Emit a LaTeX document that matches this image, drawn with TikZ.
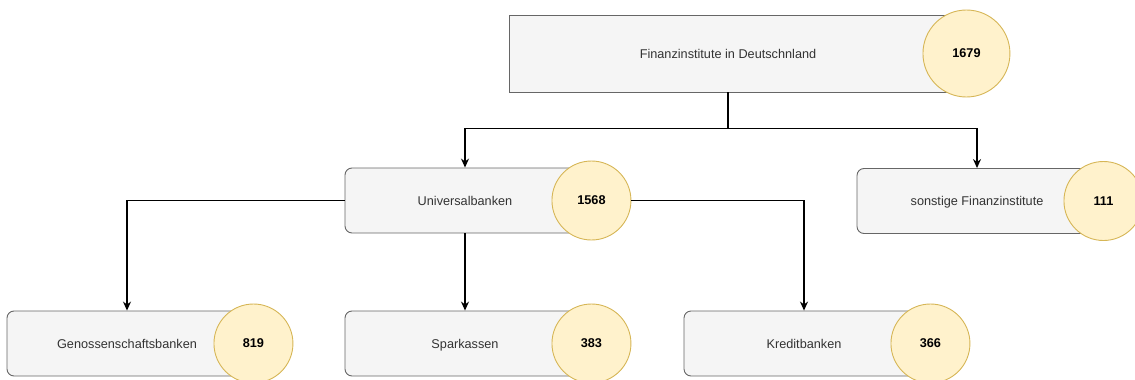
\documentclass[tikz,border=0pt]{standalone}
\usepackage{fontspec}
\setmainfont{Liberation Sans}
\usepackage{tikz}
\usetikzlibrary{arrows.meta}
\usetikzlibrary{calc,positioning}

\definecolor{boxfill}{HTML}{F5F5F5}
\definecolor{boxline}{HTML}{666666}
\definecolor{boxtext}{HTML}{333333}
\definecolor{countfill}{HTML}{FFF2CC}
\definecolor{countline}{HTML}{D6B656}

\tikzset{
    bank/.style={draw=boxline, fill=boxfill, text=boxtext, line width=0.9pt,
        rounded corners=7pt, minimum width=240pt, minimum height=65pt,
        inner sep=0pt, text height=9pt, text depth=0pt,
        font=\fontsize{12.7}{15}\selectfont},
    count/.style={circle, draw=countline, fill=countfill, line width=0.9pt,
        minimum size=79pt, inner sep=0pt, font=\fontsize{12.7}{15}\selectfont\bfseries},
    link/.style={line width=1.2pt, -{Stealth[length=9pt,width=8pt]}},
}

\begin{document}
\begin{tikzpicture}[x=1pt, y=-1pt]
    \useasboundingbox (0,0) rectangle (1135,380);

    % Wurzel
    \node[bank, rounded corners=0pt, minimum width=438pt, minimum height=77pt] (root) at (728,53.5) {Finanzinstitute in Deutschnland};
    \node[count, minimum size=87pt, xshift=19pt] (nroot) at (root.east) {1679};

    % zweite Ebene
    \node[bank] (uni) at (465,200.5) {Universalbanken};
    \node[count, xshift=6pt] (nuni) at (uni.east) {1568};

    \node[bank] (other) at (977,201) {sonstige Finanzinstitute};
    \node[count, xshift=6pt] (nother) at (other.east) {111};

    % dritte Ebene
    \node[bank] (coop) at (127,343.5) {Genossenschaftsbanken};
    \node[count, xshift=6pt] (ncoop) at (coop.east) {819};

    \node[bank] (savings) at (465,343.5) {Sparkassen};
    \node[count, xshift=6pt] (nsavings) at (savings.east) {383};

    \node[bank] (credit) at (804,343.5) {Kreditbanken};
    \node[count, xshift=6pt] (ncredit) at (credit.east) {366};

    % Verbindungen
    \coordinate (split) at ($(root.south)+(0,36)$);
    \draw[line width=1.2pt] (root.south) -- (split);
    \draw[link] (split) -| (uni.north);
    \draw[link] (split) -| (other.north);

    \draw[link] (uni.west) -| (coop.north);
    \draw[link] (uni.south) -- (savings.north);
    \draw[link] (nuni.east) -| (credit.north);
\end{tikzpicture}
\end{document}
